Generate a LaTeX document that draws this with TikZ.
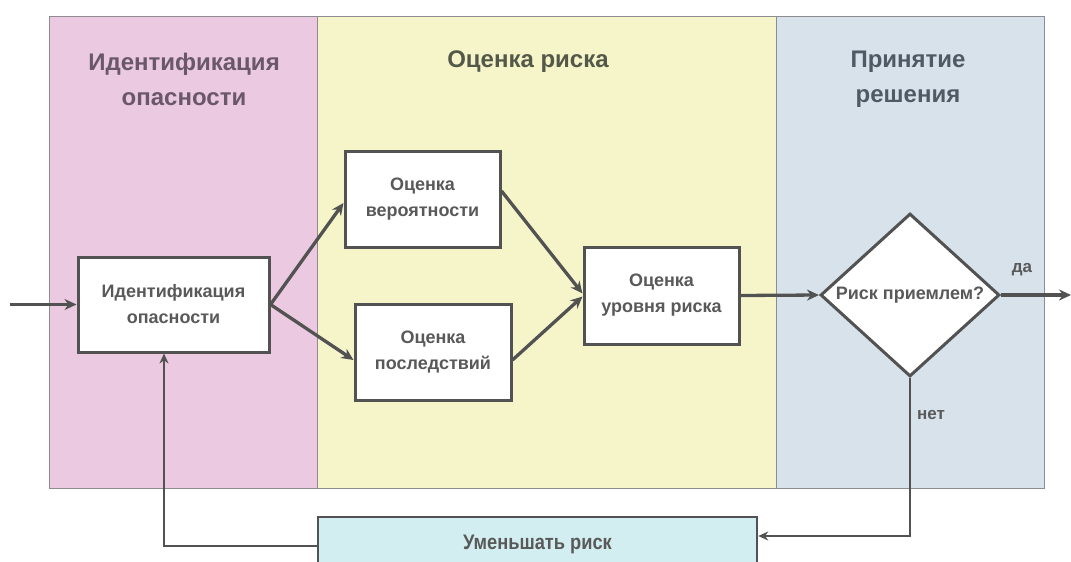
\documentclass[tikz,border=0pt]{standalone}
\usepackage{fontspec}
\setmainfont{Liberation Sans}
\usetikzlibrary{shapes.geometric,arrows.meta}

\definecolor{pinkbg}{HTML}{EBC9E0}
\definecolor{yellowbg}{HTML}{F5F5C9}
\definecolor{bluebg}{HTML}{D8E2EB}
\definecolor{cyanbg}{HTML}{D2EEF1}
\definecolor{panelline}{HTML}{8E8C90}
\definecolor{boxline}{HTML}{525252}
\definecolor{boxtext}{HTML}{595959}
\definecolor{headpink}{HTML}{6A586A}
\definecolor{headyellow}{HTML}{545848}
\definecolor{headblue}{HTML}{4F5A64}

\begin{document}
\begin{tikzpicture}[x=1pt,y=-1pt,
  panel/.style={draw=panelline,line width=1.3pt,anchor=north west,inner sep=0pt},
  heading/.style={font=\bfseries\fontsize{24}{35}\selectfont,align=center},
  stepbox/.style={draw=boxline,fill=white,line width=3pt,inner sep=0pt,
    font=\bfseries\fontsize{18}{26}\selectfont,text=boxtext,align=center},
  decision/.style={diamond,aspect=1.1,draw=boxline,fill=white,line width=3pt,inner sep=0pt,
    minimum width=179pt,minimum height=163pt,font=\bfseries\fontsize{18}{20}\selectfont,text=boxtext},
  lbl/.style={font=\bfseries\fontsize{17}{20}\selectfont,text=boxtext},
  arr/.style={draw=boxline,line width=3.3pt,-{Stealth[length=12pt,width=11pt]}},
  backarr/.style={draw=boxline,line width=2.4pt,-{Stealth[length=10pt,width=9pt]}}
]
\clip (0,0) rectangle (1071,562);
\fill[white] (0,0) rectangle (1071,562);

% three stage panels
\node[panel,fill=pinkbg,minimum width=268pt,minimum height=472pt] (p1) at (49,16) {};
\node[panel,fill=yellowbg,minimum width=459pt,minimum height=472pt] (p2) at (317,16) {};
\node[panel,fill=bluebg,minimum width=268pt,minimum height=472pt] (p3) at (776,16) {};

% panel headings
\node[heading,text=headpink] (h1) at (184,79) {Идентификация\\опасности};
\node[heading,text=headyellow] (h2) at (528,62) {Оценка риска};
\node[heading,text=headblue] (h3) at (908,79) {Принятие\\решения};

% process steps
\node[stepbox,minimum width=191pt,minimum height=95pt] (ident) at (173.5,304.5) {Идентификация\\опасности};
\node[stepbox,minimum width=155pt,minimum height=96pt] (prob) at (422.5,199) {Оценка\\вероятности};
\node[stepbox,minimum width=156pt,minimum height=96pt] (cons) at (433,352) {Оценка\\последствий};
\node[stepbox,minimum width=155pt,minimum height=97pt] (level) at (661.5,295.5) {Оценка\\уровня риска};
\node[decision] (dec) at (910,295) {Риск приемлем?};
\node[stepbox,fill=cyanbg,line width=2.6pt,minimum width=439pt,minimum height=58pt] (reduce) at (537.5,546)
  {\raisebox{7pt}{\fontsize{21}{24}\selectfont\scalebox{0.87}[1]{Уменьшать риск}}};

% branch labels
\node[lbl] (yes) at (1022,270) {да};
\node[lbl] (no) at (931,415) {нет};

% free ends
\coordinate (in) at (10,304.5);
\coordinate (out) at (1071,295);

% connectors
\draw[arr] (in) -- (ident.west);
\draw[arr] (ident.east) -- ([yshift=-4pt]prob.west);
\draw[arr] (ident.east) -- ([yshift=-8pt]cons.west);
\draw[arr] ([yshift=8pt]prob.east) -- ([yshift=2pt]level.west);
\draw[arr] ([yshift=-8pt]cons.east) -- ([yshift=-1pt]level.west);
\draw[arr] (level.east) -- (dec.west);
\draw[arr] (dec.east) -- (out);
\draw[backarr] (dec.south) |- ([yshift=10pt]reduce.east);
\draw[backarr] (reduce.west) -| ([xshift=-9.5pt]ident.south);
\end{tikzpicture}
\end{document}
